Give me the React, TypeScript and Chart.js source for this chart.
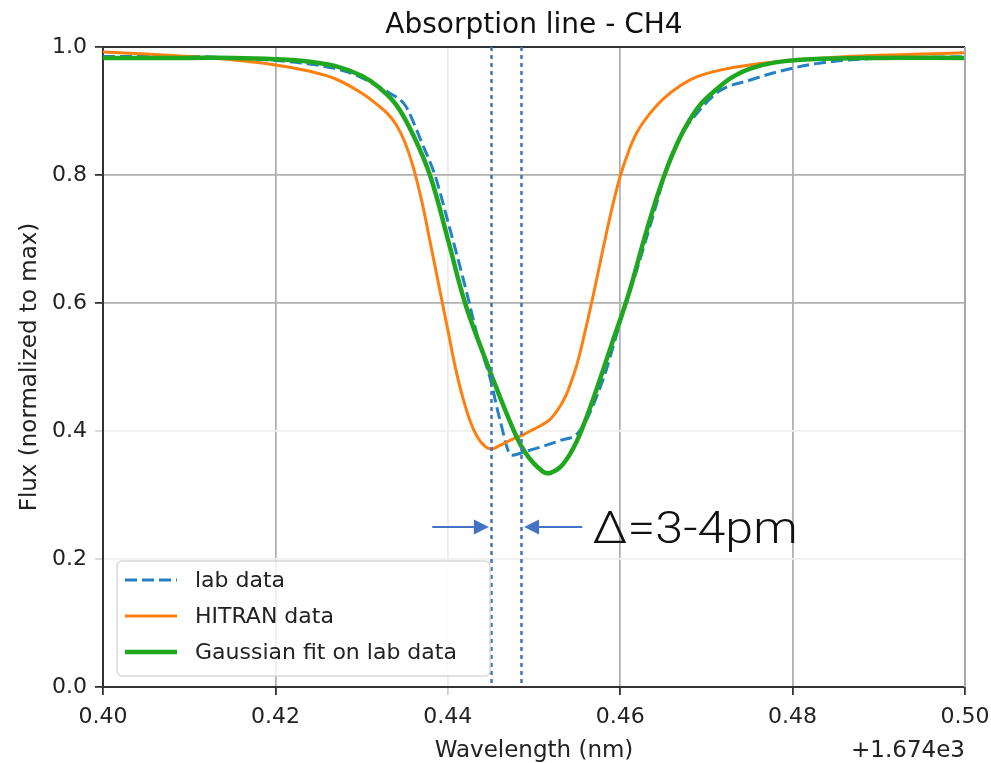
import React, { useEffect, useRef } from "react";
import { Chart, registerables } from "chart.js";

Chart.register(...registerables);

// Wavelength offsets from 1674 nm
const LAB_WL = [0.400, 0.410, 0.415, 0.419, 0.423, 0.4267, 0.429, 0.431, 0.433, 0.435, 0.4355, 0.437, 0.4385, 0.440, 0.4422, 0.4435, 0.445, 0.446, 0.4474, 0.449, 0.451, 0.453, 0.4553, 0.458, 0.460, 0.462, 0.464, 0.4655, 0.467, 0.469, 0.4716, 0.475, 0.4782, 0.4827, 0.4893, 0.496, 0.500];
const LAB_FLUX = [0.985, 0.985, 0.983, 0.980, 0.975, 0.967, 0.958, 0.945, 0.930, 0.910, 0.898, 0.850, 0.800, 0.728, 0.616, 0.545, 0.478, 0.420, 0.362, 0.368, 0.376, 0.385, 0.400, 0.480, 0.570, 0.655, 0.745, 0.815, 0.860, 0.898, 0.932, 0.948, 0.961, 0.974, 0.982, 0.984, 0.985];

const HITRAN_WL = [0.400, 0.405, 0.410, 0.415, 0.420, 0.424, 0.427, 0.430, 0.432, 0.433, 0.434, 0.435, 0.436, 0.437, 0.438, 0.439, 0.440, 0.441, 0.442, 0.443, 0.444, 0.445, 0.446, 0.447, 0.448, 0.449, 0.450, 0.451, 0.452, 0.453, 0.4535, 0.454, 0.455, 0.456, 0.457, 0.458, 0.459, 0.460, 0.461, 0.462, 0.4635, 0.465, 0.467, 0.469, 0.472, 0.475, 0.480, 0.485, 0.490, 0.495, 0.500];
const HITRAN_FLUX = [0.992, 0.989, 0.985, 0.980, 0.972, 0.962, 0.950, 0.928, 0.908, 0.896, 0.879, 0.852, 0.812, 0.758, 0.692, 0.625, 0.558, 0.492, 0.440, 0.402, 0.380, 0.372, 0.377, 0.384, 0.390, 0.396, 0.403, 0.410, 0.420, 0.438, 0.450, 0.465, 0.505, 0.560, 0.620, 0.684, 0.745, 0.798, 0.838, 0.868, 0.897, 0.919, 0.940, 0.954, 0.965, 0.972, 0.979, 0.984, 0.987, 0.989, 0.991];

const FIT_WL = [0.400, 0.410, 0.415, 0.420, 0.424, 0.427, 0.430, 0.432, 0.434, 0.436, 0.438, 0.440, 0.442, 0.444, 0.446, 0.448, 0.449, 0.450, 0.451, 0.4515, 0.452, 0.453, 0.454, 0.455, 0.456, 0.457, 0.459, 0.461, 0.463, 0.465, 0.467, 0.469, 0.471, 0.473, 0.475, 0.478, 0.482, 0.490, 0.500];
const FIT_FLUX = [0.983, 0.983, 0.983, 0.981, 0.977, 0.970, 0.955, 0.937, 0.910, 0.862, 0.797, 0.700, 0.600, 0.525, 0.455, 0.390, 0.366, 0.349, 0.337, 0.334, 0.335, 0.343, 0.360, 0.385, 0.418, 0.455, 0.535, 0.615, 0.710, 0.795, 0.860, 0.905, 0.932, 0.953, 0.966, 0.976, 0.981, 0.983, 0.983];

const SERIES_LABELS = ["lab data", "HITRAN data", "Gaussian fit on lab data"];
const TITLE = "Absorption line - CH4";
const X_TITLE = "Wavelength (nm)";
const Y_TITLE = "Flux (normalized to max)";
const X_OFFSET_TEXT = "+1.674e3";
const X_MIN = 0.4, X_MAX = 0.5, X_STEP = 0.02;
const Y_MIN = 0, Y_MAX = 1, Y_STEP = 0.2;

// Annotation (data coordinates)
const DELTA_LINES = [0.4450, 0.4485];
const ARROW_Y = 0.25;
const ARROW_LEFT_TAIL = 0.4382;
const ARROW_RIGHT_TAIL = 0.4556;
const DELTA_TEXT = "Δ=3-4pm";
const DELTA_TEXT_POS = [0.4568, 0.225];

const BLUE = "#2581c4";
const ORANGE = "#ff7f0e";
const GREEN = "#1fa71f";
const ANNOT = "#4472c4";
const FONT = '"DejaVu Sans", sans-serif';

const near = (a: number, b: number) => Math.abs(a - b) < 1e-6;

const toPts = (xs: number[], ys: number[]) => xs.map((x, i) => ({ x, y: ys[i] }));

const customPlugin = {
  id: "custom",
  afterDatasetsDraw(chart: any) {
    const ctx = chart.ctx;
    const { left, right, top, bottom } = chart.chartArea;
    const xs = chart.scales.x;
    const ys = chart.scales.y;
    ctx.save();
    // spines top/right
    ctx.lineWidth = 2;
    ctx.strokeStyle = "#333";
    ctx.beginPath();
    ctx.moveTo(left, top);
    ctx.lineTo(right, top);
    ctx.stroke();
    ctx.strokeStyle = "#a8a8a8";
    ctx.beginPath();
    ctx.moveTo(right, top);
    ctx.lineTo(right, bottom);
    ctx.stroke();

    // dotted vertical lines
    ctx.strokeStyle = ANNOT;
    ctx.lineWidth = 2.5;
    ctx.setLineDash([4, 4]);
    DELTA_LINES.forEach((v) => {
      const px = Math.round(xs.getPixelForValue(v)) + 0.5;
      ctx.beginPath();
      ctx.moveTo(px, top);
      ctx.lineTo(px, bottom);
      ctx.stroke();
    });
    ctx.setLineDash([]);

    // arrows
    const ay = ys.getPixelForValue(ARROW_Y);
    const drawArrow = (tail: number, tip: number) => {
      const dir = Math.sign(tip - tail);
      const headLen = 15, headHalf = 7.5;
      ctx.strokeStyle = ANNOT;
      ctx.fillStyle = ANNOT;
      ctx.lineWidth = 2.2;
      ctx.beginPath();
      ctx.moveTo(tail, ay);
      ctx.lineTo(tip - dir * headLen, ay);
      ctx.stroke();
      ctx.beginPath();
      ctx.moveTo(tip, ay);
      ctx.lineTo(tip - dir * headLen, ay - headHalf);
      ctx.lineTo(tip - dir * headLen, ay + headHalf);
      ctx.closePath();
      ctx.fill();
    };
    const l0 = xs.getPixelForValue(DELTA_LINES[0]);
    const l1 = xs.getPixelForValue(DELTA_LINES[1]);
    drawArrow(xs.getPixelForValue(ARROW_LEFT_TAIL), l0 - 2);
    drawArrow(xs.getPixelForValue(ARROW_RIGHT_TAIL), l1 + 3);

    // delta text
    ctx.fillStyle = "#111";
    ctx.font = '300 44px Roboto, sans-serif';
    ctx.textBaseline = "alphabetic";
    ctx.textAlign = "left";
    const tx = xs.getPixelForValue(DELTA_TEXT_POS[0]);
    const ty = ys.getPixelForValue(DELTA_TEXT_POS[1]);
    const w = ctx.measureText(DELTA_TEXT).width;
    ctx.save();
    ctx.translate(tx, ty);
    ctx.scale(205 / w, 1);
    ctx.fillText(DELTA_TEXT, 0, 0);
    ctx.restore();

    // legend
    const lx = 117, ly = 561, lw = 373, lh = 115;
    ctx.fillStyle = "rgba(255,255,255,0.8)";
    ctx.strokeStyle = "#d8d8d8";
    ctx.lineWidth = 1.5;
    ctx.beginPath();
    (ctx as any).roundRect(lx, ly, lw, lh, 5);
    ctx.fill();
    ctx.stroke();
    const rows = [580, 616, 652];
    const styles = [
      { color: BLUE, width: 3, dash: [12, 5] },
      { color: ORANGE, width: 3, dash: [] as number[] },
      { color: GREEN, width: 4.5, dash: [] as number[] },
    ];
    ctx.font = `22px ${FONT}`;
    ctx.textBaseline = "middle";
    rows.forEach((ry, i) => {
      const s = styles[i];
      ctx.strokeStyle = s.color;
      ctx.lineWidth = s.width;
      ctx.setLineDash(s.dash);
      ctx.beginPath();
      ctx.moveTo(125, ry);
      ctx.lineTo(177, ry);
      ctx.stroke();
      ctx.setLineDash([]);
      ctx.fillStyle = "#222";
      ctx.fillText(SERIES_LABELS[i], 195, ry + 1);
    });

    // titles
    const cx = (left + right) / 2;
    ctx.fillStyle = "#111";
    ctx.textAlign = "center";
    ctx.textBaseline = "alphabetic";
    ctx.font = `28px ${FONT}`;
    ctx.fillText(TITLE, cx, 33);
    ctx.fillStyle = "#222";
    ctx.font = `23px ${FONT}`;
    ctx.fillText(X_TITLE, cx, 757);
    ctx.textAlign = "right";
    ctx.fillText(X_OFFSET_TEXT, right, 757);
    ctx.save();
    ctx.translate(36, (top + bottom) / 2);
    ctx.rotate(-Math.PI / 2);
    ctx.textAlign = "center";
    ctx.fillText(Y_TITLE, 0, 0);
    ctx.restore();
    ctx.restore();
  },
};

export default function App() {
  const ref = useRef<HTMLCanvasElement | null>(null);
  useEffect(() => {
    if (!ref.current) return;
    const chart = new Chart(ref.current, {
      type: "line",
      data: {
        datasets: [
          {
            label: SERIES_LABELS[0],
            data: toPts(LAB_WL, LAB_FLUX),
            borderColor: BLUE,
            borderWidth: 3,
            borderDash: [12, 5],
            pointRadius: 0,
            cubicInterpolationMode: "monotone",
            order: 3,
          },
          {
            label: SERIES_LABELS[1],
            data: toPts(HITRAN_WL, HITRAN_FLUX),
            borderColor: ORANGE,
            borderWidth: 3,
            pointRadius: 0,
            tension: 0.4,
            order: 2,
          },
          {
            label: SERIES_LABELS[2],
            data: toPts(FIT_WL, FIT_FLUX),
            borderColor: GREEN,
            borderWidth: 4.5,
            pointRadius: 0,
            tension: 0.4,
            order: 1,
          },
        ],
      },
      options: {
        animation: false,
        responsive: false,
        devicePixelRatio: 1,
        layout: { padding: { top: 47, right: 26, left: 0, bottom: 0 } },
        plugins: { legend: { display: false }, title: { display: false }, tooltip: { enabled: false } },
        scales: {
          x: {
            type: "linear",
            min: X_MIN,
            max: X_MAX,
            ticks: {
              stepSize: X_STEP,
              autoSkip: false,
              maxRotation: 0,
              padding: 9,
              color: "#222",
              font: { family: FONT, size: 22 },
              callback: (v: any) => Number(v).toFixed(2),
            },
            grid: {
              lineWidth: 1.8,
              tickLength: 8,
              tickWidth: 1.8,
              color: (c: any) => {
                const v = c.tick ? c.tick.value : 0;
                if (near(v, 0.44)) return "#ececec";
                if (near(v, 0.4)) return "#333";
                return "#b0b0b0";
              },
              tickColor: (c: any) => {
                const v = c.tick ? c.tick.value : 0;
                if (near(v, 0.44)) return "#cfcfcf";
                return "#333";
              },
            },
            border: { display: true, color: "#333", width: 2 },
            afterFit: (s: any) => {
              s.height = 76;
              s.paddingLeft = 0;
              s.paddingRight = 0;
            },
          },
          y: {
            type: "linear",
            min: Y_MIN,
            max: Y_MAX,
            ticks: {
              stepSize: Y_STEP,
              padding: 8,
              color: "#222",
              font: { family: FONT, size: 22 },
              callback: (v: any) => Number(v).toFixed(1),
            },
            grid: {
              lineWidth: 1.8,
              tickLength: 8,
              tickWidth: 1.8,
              color: (c: any) => {
                const v = c.tick ? c.tick.value : 0;
                if (near(v, 0.4) || near(v, 0.2)) return "#efefef";
                if (near(v, 1) || near(v, 0)) return "#333";
                return "#b0b0b0";
              },
              tickColor: (c: any) => {
                const v = c.tick ? c.tick.value : 0;
                if (near(v, 0.4) || near(v, 0.2)) return "#d8d8d8";
                return "#333";
              },
            },
            border: { display: true, color: "#333", width: 2 },
            afterFit: (s: any) => {
              s.width = 103;
              s.paddingTop = 0;
              s.paddingBottom = 0;
            },
          },
        },
      },
      plugins: [customPlugin],
    } as any);
    return () => chart.destroy();
  }, []);
  return (
    <div style={{ position: "fixed", left: 0, top: 0, width: 991, height: 763, background: "#fff" }}>
      <canvas ref={ref} width={991} height={763} style={{ width: 991, height: 763, display: "block" }} />
    </div>
  );
}
